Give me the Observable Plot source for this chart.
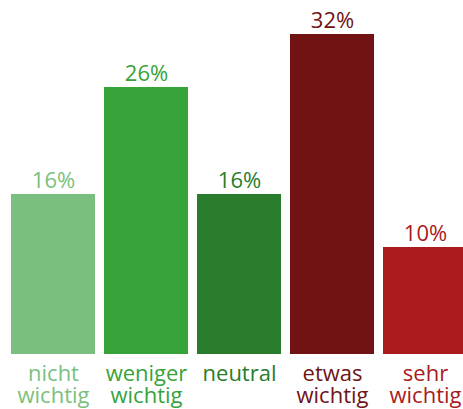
<!DOCTYPE html>
<html>
<head>
<meta charset="utf-8">
<script src="https://cdn.jsdelivr.net/npm/d3@7"></script>
<script src="https://cdn.jsdelivr.net/npm/@observablehq/plot@0.6"></script>
<style>
  html, body { margin: 0; padding: 0; background: #fff; overflow: hidden; }
  svg { overflow: hidden; }
</style>
</head>
<body>
<div id="chart"></div>
<script>
const categories = ["nicht\nwichtig", "weniger\nwichtig", "neutral", "etwas\nwichtig", "sehr\nwichtig"];
const values = [16, 26.7, 16, 32, 10.7];
const valueLabels = ["16%", "26%", "16%", "32%", "10%"];
const colors = ["#7bbf80", "#38a339", "#297c2b", "#711313", "#a91b1c"];

const data = categories.map((c, i) => ({cat: c, value: values[i], label: valueLabels[i], color: colors[i]}));

const chart = Plot.plot({
  width: 463,
  height: 409,
  margin: 0,
  style: {fontFamily: "'Open Sans', sans-serif", background: "#fff"},
  x: {domain: categories, range: [11, 467], paddingInner: 9 / 93, paddingOuter: 0, round: false, axis: null},
  y: {domain: [0, 35.4], range: [354, 0], axis: null},
  marks: [
    Plot.barY(data, {x: "cat", y: "value", fill: d => d.color}),
    Plot.text(data, {x: "cat", y: "value", text: "label", fill: d => d.color, fontSize: 22, lineAnchor: "bottom", dy: -7}),
    Plot.text(data, {x: "cat", y: () => 0, text: "cat", fill: d => d.color, fontSize: 22, lineAnchor: "top", lineHeight: 1, dy: 11})
  ]
});
document.getElementById("chart").appendChild(chart);
</script>
</body>
</html>
